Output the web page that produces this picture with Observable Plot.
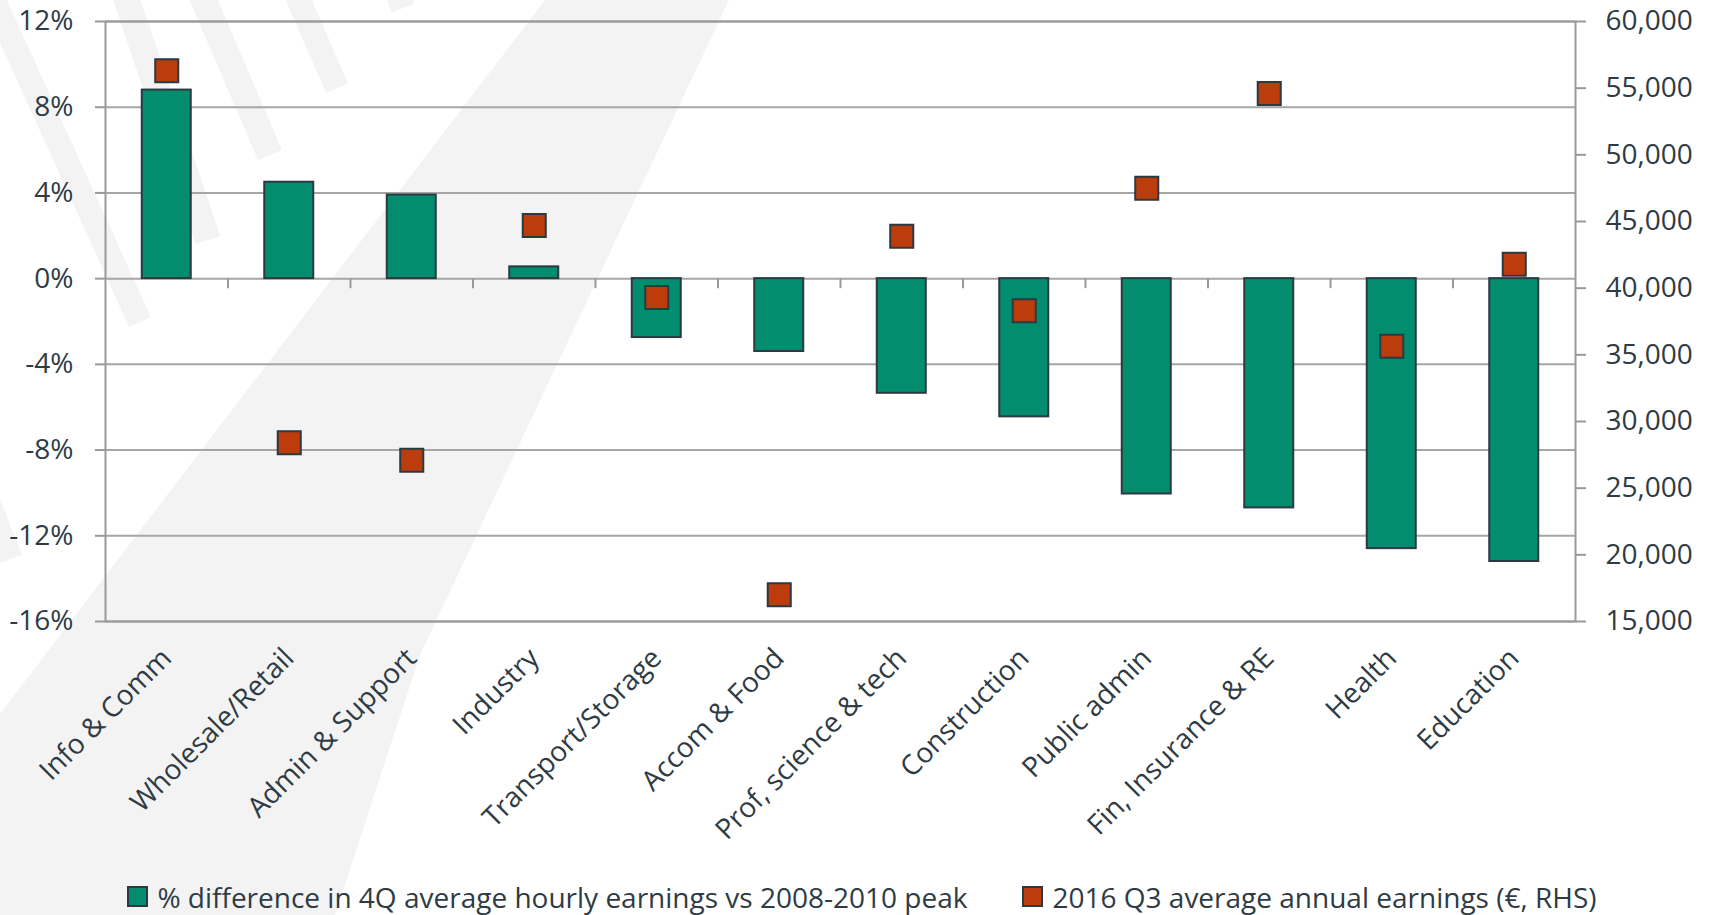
<!DOCTYPE html>
<html>
<head>
<meta charset="utf-8">
<script src="https://cdn.jsdelivr.net/npm/d3@7"></script>
<script src="https://cdn.jsdelivr.net/npm/@observablehq/plot@0.6"></script>
<style>
  html, body { margin: 0; padding: 0; background: #ffffff; }
  #wrap { position: relative; width: 1715px; height: 915px; overflow: hidden; font-family: "Open Sans", sans-serif; }
  #bg { position: absolute; left: 0; top: 0; z-index: 0; }
  #chart { position: relative; z-index: 1; }
  #legend { position: relative; z-index: 1; height: 55px; display: flex; justify-content: center; align-items: center;
            gap: 55px; font-size: 28px; color: #2e3b44; padding-left: 9px; padding-top: 18px; box-sizing: border-box; white-space: nowrap; }
  .item { display: flex; align-items: center; gap: 9px; }
  .sw { width: 17px; height: 17px; border: 2px solid #2b3a42; display: inline-block; }
</style>
</head>
<body>
<div id="wrap">
  <svg id="bg" width="1715" height="915"></svg>
  <div id="chart"></div>
  <div id="legend"></div>
</div>
<script>
// ---- data ----
const categories = ["Info & Comm", "Wholesale/Retail", "Admin & Support", "Industry", "Transport/Storage",
  "Accom & Food", "Prof, science & tech", "Construction", "Public admin", "Fin, Insurance & RE", "Health", "Education"];
const pctDiff = [8.8, 4.5, 3.9, 0.55, -2.75, -3.4, -5.35, -6.45, -10.05, -10.7, -12.6, -13.2];
const earnings = [56300, 28400, 27100, 44700, 39300, 17000, 43900, 38300, 47500, 54600, 35650, 41800];
const leftTicks = [-16, -12, -8, -4, 0, 4, 8, 12];
const rightTicks = [15000, 20000, 25000, 30000, 35000, 40000, 45000, 50000, 55000, 60000];
const seriesNames = ["% difference in 4Q average hourly earnings vs 2008-2010 peak", "2016 Q3 average annual earnings (€, RHS)"];

// ---- style ----
const GREEN = "#048c6e", RED = "#bc3c0b", EDGE = "#2b3a42", TEXT = "#2e3b44", GRID = "#a6a6a6", AXIS = "#979a9c";

// ---- decorative watermark ----
(function () {
  const bg = d3.select("#bg");
  const fill = "#f3f3f3";
  bg.append("polygon").attr("points", [[545,0],[729,0],[420,655],[335,915],[0,915],[0,714]].map(p => p.join(",")).join(" ")).attr("fill", fill);
  function stripe(x0, y0, x1, y1, w) {
    const dx = x1 - x0, dy = y1 - y0, L = Math.hypot(dx, dy);
    const px = -dy / L * w / 2, py = dx / L * w / 2;
    const pts = [[x0 + px, y0 + py], [x1 + px, y1 + py], [x1 - px, y1 - py], [x0 - px, y0 - py]];
    bg.append("polygon").attr("points", pts.map(p => p.join(",")).join(" ")).attr("fill", fill);
  }
  stripe(-20, -30, 140, 322, 24);
  stripe(120, -20, 208, 240, 26);
  stripe(195, -20, 270, 155, 26);
  stripe(290, -20, 337, 88, 24);
  stripe(392, -20, 403, 8, 24);
  stripe(-40, 440, 8, 560, 30);
})();

// ---- chart ----
const toPct = e => -16 + (e - 15000) * 28 / 45000;
const toE = p => 15000 + (p + 16) * 45000 / 28;
const data = categories.map((c, i) => ({cat: c, pct: pctDiff[i], earn: earnings[i]}));

const W = 1715, H = 860, ML = 105, MR = 140, MT = 21, MB = 239;
const step = (W - ML - MR) / categories.length;

const chart = Plot.plot({
  width: W, height: H,
  marginLeft: ML, marginRight: MR, marginTop: MT, marginBottom: MB,
  style: {background: "transparent", fontFamily: "Open Sans, sans-serif", fontSize: "28px", color: TEXT, overflow: "visible"},
  x: {type: "band", domain: categories, paddingInner: 0.6, paddingOuter: 0.3, round: false},
  y: {domain: [-16, 12]},
  marks: [
    Plot.gridY(leftTicks, {stroke: GRID, strokeOpacity: 1, strokeWidth: 2}),
    Plot.frame({stroke: AXIS, strokeWidth: 2}),
    Plot.ruleX(categories.slice(1), {x: d => d, y1: 0, y2: 0, insetBottom: -10, dx: -step / 2, stroke: AXIS, strokeWidth: 2}),
    Plot.barY(data, {x: "cat", y: "pct", fill: GREEN, stroke: EDGE, strokeWidth: 2}),
    Plot.dot(data, {x: "cat", y: d => toPct(d.earn), symbol: "square", r: 13, fill: RED, stroke: EDGE, strokeWidth: 2}),
    Plot.axisY(leftTicks, {anchor: "left", tickSize: 10, tickPadding: 22, tickFormat: d => d + "%",
      stroke: AXIS, strokeWidth: 2, fill: TEXT, fontSize: 28, label: null}),
    Plot.axisY(rightTicks.map(toPct), {anchor: "right", tickSize: 10, tickPadding: 20,
      tickFormat: d => d3.format(",")(Math.round(toE(d))), stroke: AXIS, strokeWidth: 2, fill: TEXT, fontSize: 28, label: null}),
    Plot.axisX({anchor: "bottom", tickSize: 0, tickPadding: 32, tickRotate: -45, fill: TEXT, fontSize: 28, label: null})
  ]
});
document.getElementById("chart").appendChild(chart);

// ---- legend ----
const legend = d3.select("#legend");
[[seriesNames[0], GREEN], [seriesNames[1], RED]].forEach(([name, col]) => {
  const it = legend.append("div").attr("class", "item");
  it.append("span").attr("class", "sw").style("background", col);
  it.append("span").text(name);
});
</script>
</body>
</html>
